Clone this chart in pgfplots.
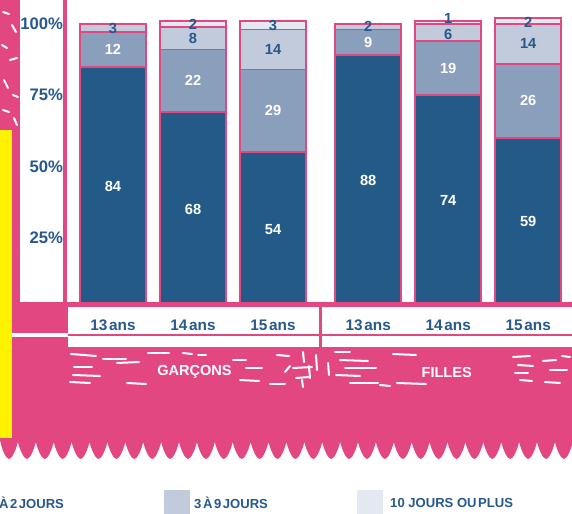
\documentclass[border=0pt]{standalone}
\usepackage{pgfplots}
\pgfplotsset{compat=1.18}
\usepackage{pgfplotstable}
\usepackage{fontspec}
\setmainfont{Liberation Sans}
\definecolor{pinkc}{RGB}{226,71,130}
\definecolor{dblue}{RGB}{35,90,135}
\definecolor{mblue}{RGB}{138,159,187}
\definecolor{lblue}{RGB}{193,203,219}
\definecolor{vlblue}{RGB}{228,232,240}
\definecolor{txtblue}{RGB}{38,88,140}
\definecolor{yel}{RGB}{255,242,0}

% bar data: A = dark, B = 1 a 2 jours, C = 3 a 9 jours, D = 10 jours ou plus
\pgfplotstableread{
x A B C D
0 84 12 3 0
1 68 22 8 2
2 54 29 14 3
3.19 88 9 2 0
4.19 74 19 6 1
5.19 59 26 14 2
}\data
% label positions (segment middles)
\pgfplotstableread{
x y lab
0 42 84
1 34 68
2 27 54
3.19 44 88
4.19 37 74
5.19 29.5 59
}\labA
\pgfplotstableread{
x y lab
0 90 12
1 79 22
2 68.5 29
3.19 92.5 9
4.19 83.5 19
5.19 72 26
}\labB
\pgfplotstableread{
x y lab
0 97.5 3
1 94 8
2 90 14
3.19 98 2
4.19 95.2 6
5.19 92 14
}\labC
\pgfplotstableread{
x y lab
1 98.8 2
2 98.5 3
4.19 100.9 1
5.19 99.5 2
}\labD

\newcommand{\lfont}{\bfseries\fontsize{11}{13}\selectfont}
\pgfplotsset{
  common/.style={
    at={(49.5pt,-227.25pt)}, anchor=south west,
    width=379.5pt, height=219.75pt, scale only axis,
    xmin=-0.5875, xmax=5.7375, ymin=1.05, ymax=103.86,
  },
  sw/.style={legend image code/.code={\path[##1,draw=none] (0pt,-8.25pt) rectangle (19.5pt,10.5pt);}},
}

\begin{document}
\begin{tikzpicture}
\useasboundingbox (0,0) rectangle (429pt,-385.5pt);
\clip (0,0) rectangle (429pt,-385.5pt);
\begin{scope}[x=0.75pt,y=-0.75pt]
  % pink background regions
  \fill[pinkc] (0,0) rectangle (20,303);
  \fill[pinkc] (0,302) rectangle (572,441);
  \fill[pinkc] (0,440) \foreach \i in {0,...,31} {
     .. controls ({\i*17.9+2},450) and ({\i*17.9+6},459) .. ({\i*17.9+9},459)
     .. controls ({\i*17.9+12},459) and ({\i*17.9+16},450) .. ({\i*17.9+17.9},442)
  } -- (572,440) -- cycle;
  % label band
  \fill[white] (68,307) rectangle (572,347);
  \fill[pinkc] (68,333.5) rectangle (572,336);
  \fill[white] (12,333) rectangle (68,336.5);
  \fill[pinkc] (319,307) rectangle (322,347);
  % y axis line
  \fill[pinkc] (63,0) rectangle (67,303);
  % yellow block
  \fill[yel] (0,130) rectangle (12,438);
  % scribbles
  \begin{scope}[white, line width=1.5pt, line cap=round]
    \draw (3,12)--(9,14); \draw (12,25)--(16,32); \draw (2,45)--(7,48);
    \draw (10,60)--(17,58); \draw (4,80)--(8,88); \draw (13,95)--(18,97);
    \draw (3,110)--(9,112); \draw (14,118)--(17,125);
    \draw (71,354)--(96,356); \draw (74,367)--(92,367); \draw (73,375)--(100,376);
    \draw (70,382)--(90,383); \draw (103,359)--(126,359); \draw (117,363)--(139,362);
    \draw (127,383)--(146,384); \draw (148,353)--(169,353); \draw (183,353)--(192,354);
    \draw (198,355)--(206,355); \draw (233,360)--(246,360); \draw (246,368)--(262,368);
    \draw (240,380)--(259,381); \draw (277,355)--(289,356); \draw (285,372)--(290,366);
    \draw (293,368)--(312,367); \draw (296,378)--(310,377); \draw (270,384)--(285,384);
    \draw (303,352)--(304,362); \draw (309,366)--(310,378); \draw (316,355)--(317,370);
    \draw (302,380)--(303,387);
    \draw (335,352)--(350,352); \draw (340,360)--(368,361); \draw (345,368)--(376,368);
    \draw (336,375)--(360,376); \draw (350,383)--(378,383); \draw (328,363)--(329,375);
    \draw (393,354)--(416,355); \draw (397,383)--(426,384); \draw (380,385)--(390,386);
    \draw (513,357)--(530,356); \draw (518,365)--(533,366); \draw (515,373)--(528,373);
    \draw (520,380)--(532,381); \draw (543,361)--(556,360); \draw (550,370)--(567,370);
    \draw (545,382)--(560,383); \draw (562,356)--(570,357);
  \end{scope}
  \node[text=white, font=\bfseries\fontsize{10.9}{13}\selectfont] at (194.5,372) {GARÇONS};
  \node[text=white, font=\bfseries\fontsize{10.9}{13}\selectfont] at (446.7,372) {FILLES};
\end{scope}

\begin{axis}[common,
  ybar stacked, bar width=0.825,
  axis line style={draw=none}, tick style={draw=none}, major tick length=0pt,
  xtick={0,1,2,3.19,4.19,5.19},
  xticklabels={13\hspace{0.12em}ans,14\hspace{0.12em}ans,15\hspace{0.12em}ans,13\hspace{0.12em}ans,14\hspace{0.12em}ans,15\hspace{0.12em}ans},
  xticklabel style={anchor=center, yshift=-16.5pt, font=\bfseries\fontsize{11.5}{13}\selectfont, text=txtblue},
  ytick={25,50,75,100},
  yticklabels={25\%,50\%,75\%,100\%},
  yticklabel style={anchor=east, inner sep=0pt, xshift=-2pt, yshift=-2.25pt, font=\bfseries\fontsize{12.5}{14}\selectfont, text=txtblue},
  legend columns=3, legend cell align=left,
  legend style={at={(-0.2115,-0.638)}, anchor=north west, draw=none, fill=none, inner sep=0pt,
    nodes={inner sep=0pt}, /tikz/every even column/.style={column sep=0pt},
    font=\bfseries\fontsize{9.8}{12}\selectfont, text=txtblue},
]
\addplot[fill=dblue, draw=pinkc, line width=1.4pt, forget plot] table[x=x,y=A]{\data};
\addplot[sw, fill=mblue, draw=pinkc, line width=1.4pt] table[x=x,y=B]{\data};
\addlegendentry{\makebox[134.25pt][l]{\hspace{3.75pt}1\hspace{0.12em}À\hspace{0.12em}2\hspace{0.12em}JOURS}}
\addplot[sw, fill=lblue, draw=pinkc, line width=1.4pt] table[x=x,y=C]{\data};
\addlegendentry{\makebox[125.25pt][l]{\hspace{3pt}3\hspace{0.12em}À\hspace{0.12em}9\hspace{0.12em}JOURS}}
\addplot[sw, fill=vlblue, draw=pinkc, line width=1.4pt] table[x=x,y=D]{\data};
\addlegendentry{\makebox[110.25pt][l]{\hspace{5.25pt}10 JOURS OU\hspace{0.12em}PLUS}}
\end{axis}

\begin{axis}[common, hide axis]
\addplot[draw=none, mark=none, nodes near coords, point meta=explicit symbolic,
  nodes near coords style={anchor=center, text=white, font=\lfont}] table[x=x,y=y,meta=lab]{\labA};
\addplot[draw=none, mark=none, nodes near coords, point meta=explicit symbolic,
  nodes near coords style={anchor=center, text=white, font=\lfont}] table[x=x,y=y,meta=lab]{\labB};
\addplot[draw=none, mark=none, nodes near coords, point meta=explicit symbolic,
  nodes near coords style={anchor=center, text=txtblue, font=\lfont}] table[x=x,y=y,meta=lab]{\labC};
\addplot[draw=none, mark=none, nodes near coords, point meta=explicit symbolic,
  nodes near coords style={anchor=center, text=txtblue, font=\lfont}] table[x=x,y=y,meta=lab]{\labD};
\end{axis}

\begin{scope}[x=0.75pt,y=-0.75pt]
  \fill[pinkc] (20,302) rectangle (572,307);
\end{scope}
\end{tikzpicture}
\end{document}
